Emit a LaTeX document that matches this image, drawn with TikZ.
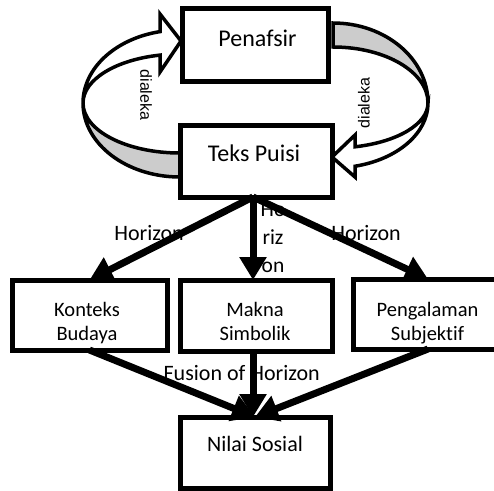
\documentclass[tikz,border=0pt]{standalone}
\usepackage{fontspec}
\setmainfont{Carlito}[Ligatures=NoCommon]
\newfontfamily\arialfont{Liberation Sans}
\usetikzlibrary{arrows.meta}
\definecolor{bandgray}{RGB}{204,204,204}
\begin{document}
\begin{tikzpicture}[x=1pt,y=-1pt,
  box/.style={draw,line width=5pt,fill=white,inner sep=0pt,outer sep=0pt},
  band/.style={draw,line width=3.5pt,line join=miter,miter limit=10},
  conn/.style={line width=7pt,-{Triangle[length=23pt,width=26pt]}},
  big/.style={font=\fontsize{24}{28}\selectfont,inner sep=0pt,anchor=base},
  mid/.style={font=\fontsize{22}{26}\selectfont,inner sep=0pt,anchor=base},
  small/.style={font=\fontsize{20.5}{23.3}\selectfont,inner sep=0pt,anchor=base,align=center},
  vlab/.style={font=\arialfont\fontsize{16}{19}\selectfont,inner sep=0pt}]
\useasboundingbox (0,0) rectangle (494,490);

% curved block arrows
\draw[band,fill=white] (160,14) -- (181,41) -- (160,72) -- (160,55.1)
  arc[start angle=258.1,end angle=180,x radius=97,y radius=49]
  arc[start angle=180,end angle=258.1,x radius=97,y radius=73] -- cycle;
\draw[band,fill=bandgray] (83,103)
  arc[start angle=180,end angle=90,x radius=97,y radius=74] -- (180,153)
  arc[start angle=90,end angle=180,x radius=97,y radius=50] -- cycle;

\draw[band,fill=bandgray] (333,23)
  arc[start angle=270,end angle=360,x radius=95,y radius=80]
  arc[start angle=360,end angle=270,x radius=95,y radius=56] -- cycle;
\draw[band,fill=white] (428,103)
  arc[start angle=0,end angle=76.6,x radius=95,y radius=65]
  -- (355,177) -- (332,157) -- (355,135) -- (355,146.8)
  arc[start angle=76.6,end angle=0,x radius=95,y radius=45] -- cycle;

\node[vlab,rotate=-90] (dl) at (146,95) {dialeka};
\node[vlab,rotate=90] (dr) at (364,103) {dialeka};

% label behind the boxes and connectors
\node[mid,align=center,font=\fontsize{21.5}{28}\selectfont] (hm) at (273,272) {Ho\\riz\\on};

% boxes
\node[box,minimum width=146pt,minimum height=73pt] (pn) at (255,44.5) {};
\node[box,minimum width=152pt,minimum height=72pt] (tp) at (256,161) {};
\node[box,minimum width=155pt,minimum height=70pt] (kb) at (89.5,315) {};
\node[box,minimum width=152pt,minimum height=71pt] (mk) at (256,315.5) {};
\node[box,minimum width=150pt,minimum height=70pt] (pg) at (428,314) {};
\node[box,minimum width=150pt,minimum height=71pt] (ns) at (255,452.5) {};

\node[big] (pnt) at (257.5,46.5) {Penafsir};
\node[big] (tpt) at (254,161.7) {Teks Puisi};
\node[small] (kbt) at (87,340) {Konteks\\Budaya};
\node[small] (mkt) at (255,340) {Makna\\Simbolik};
\node[small] (pgt) at (427.5,340) {Pengalaman\\Subjektif};
\node[mid] (nst) at (255,451.7) {Nilai Sosial};

\node[mid] (hl) at (149,240) {Horizon};
\node[mid] (hr) at (366,240) {Horizon};
\node[mid] (fh) at (241.7,380) {Fusion of Horizon};

% connectors
\coordinate (hub) at (253,197);
\draw[conn] (hub) -- (kb.north);
\draw[conn] (hub) -- (hub |- mk.north);
\draw[conn] (hub) -- (pg.north);
\draw[conn] (kb.south) -- (ns.north);
\draw[conn] (hub |- mk.south) -- (hub |- ns.north);
\draw[conn] (pg.south) -- (ns.north);
\end{tikzpicture}
\end{document}
